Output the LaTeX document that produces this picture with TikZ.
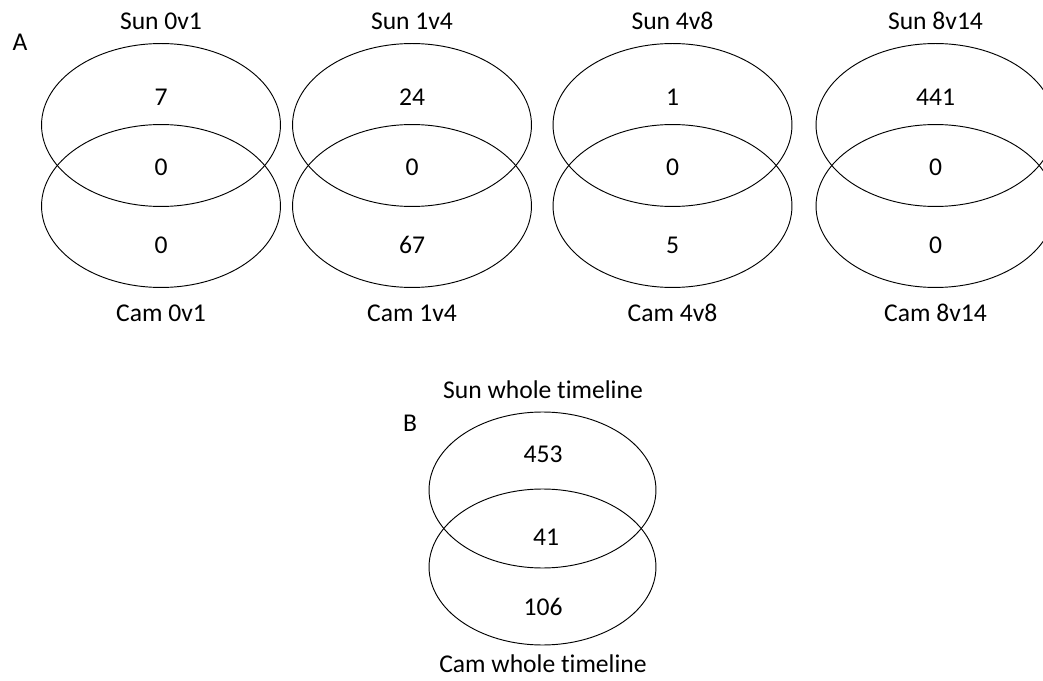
\documentclass[tikz,border=0pt]{standalone}
\usepackage{fontspec}
\setmainfont{Carlito}[Ligatures=NoCommon]
\begin{document}
\begin{tikzpicture}[x=0.75pt,y=-0.75pt,
  set/.style={draw=black, line width=0.7pt},
  lbl/.style={font=\fontsize{19.2}{23}\selectfont, inner sep=0pt, anchor=center}]
\useasboundingbox (0,0) rectangle (1043,681);
\clip (0,0) rectangle (1043,681);
% Panel A
\node[lbl] (A) at (20,42) {A};
\foreach \cx/\nm/\lab/\t/\m/\b in {161/p1/0v1/7/0/0, 412/p2/1v4/24/0/67, 672.5/p3/4v8/1/0/5, 935.5/p4/8v14/441/0/0}{
  \coordinate (\nm sun) at (\cx,125);
  \coordinate (\nm cam) at (\cx,206);
  \draw[set] (\nm sun) ellipse [x radius=89.6pt, y radius=61.1pt];
  \draw[set] (\nm cam) ellipse [x radius=89.6pt, y radius=61.1pt];
  \node[lbl] (\nm title) at (\cx,21) {Sun \lab};
  \node[lbl] (\nm top) at (\cx,97) {\t};
  \node[lbl] (\nm mid) at (\cx,167) {\m};
  \node[lbl] (\nm bot) at (\cx,245) {\b};
  \node[lbl] (\nm cap) at (\cx,313) {Cam \lab};
}
% Panel B
\node[lbl] (B) at (410,423) {B};
\coordinate (bsun) at (542.5,490);
\coordinate (bcam) at (542.5,567);
\draw[set] (bsun) ellipse [x radius=85.1pt, y radius=58.5pt];
\draw[set] (bcam) ellipse [x radius=85.1pt, y radius=58.5pt];
\node[lbl] (btitle) at (543,390) {Sun whole timeline};
\node[lbl] (btop) at (543,454) {453};
\node[lbl] (bmid) at (546,537) {41};
\node[lbl] (bbot) at (543,607) {106};
\node[lbl] (bcap) at (543,664) {Cam whole timeline};
\end{tikzpicture}
\end{document}
